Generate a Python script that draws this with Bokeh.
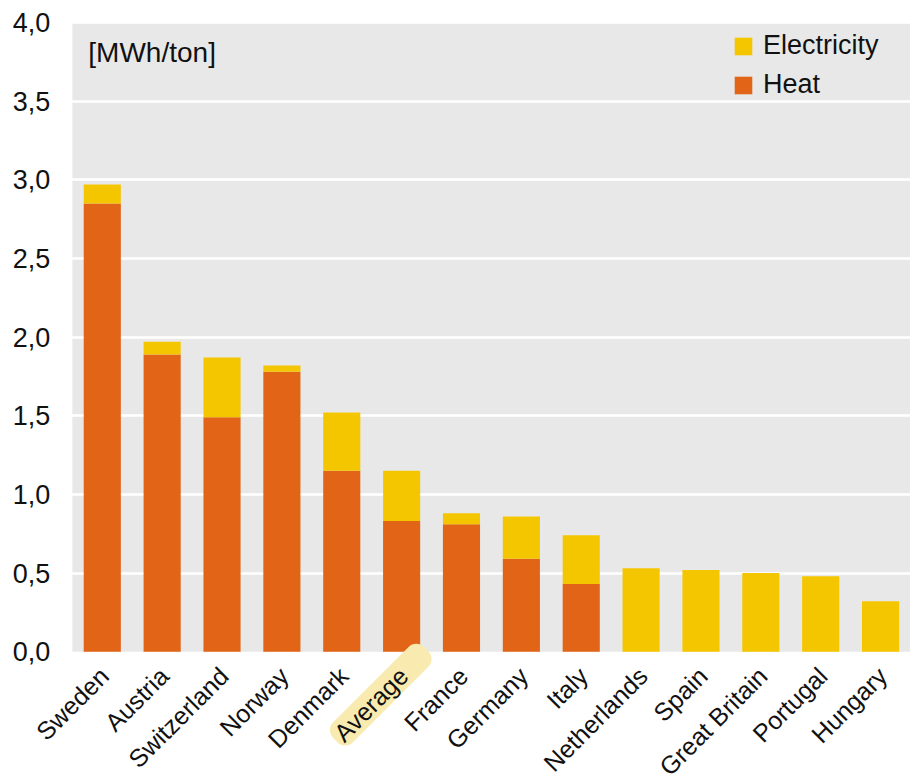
import math
from bokeh.plotting import figure
from bokeh.core.properties import value
from bokeh.models import (ColumnDataSource, Range1d, Legend, LegendItem, Label,
                          FixedTicker, BoxAnnotation)
from bokeh.embed import file_html
from bokeh.resources import INLINE

countries = ["Sweden", "Austria", "Switzerland", "Norway", "Denmark", "Average", "France",
             "Germany", "Italy", "Netherlands", "Spain", "Great Britain", "Portugal", "Hungary"]
heat = [2.85, 1.89, 1.49, 1.78, 1.15, 0.83, 0.81, 0.59, 0.43, 0.0, 0.0, 0.0, 0.0, 0.0]
electricity = [0.12, 0.08, 0.38, 0.04, 0.37, 0.32, 0.07, 0.27, 0.31, 0.53, 0.52, 0.50, 0.48, 0.32]
y_ticks = [0.0, 0.5, 1.0, 1.5, 2.0, 2.5, 3.0, 3.5, 4.0]
y_tick_labels = ["0,0", "0,5", "1,0", "1,5", "2,0", "2,5", "3,0", "3,5", "4,0"]
unit_label = "[MWh/ton]"
highlight = "Average"

ORANGE = "#e26416"
YELLOW = "#f4c600"
GREY = "#e8e8e8"
FONT = "Liberation Sans"
XFS = "25px"
TXT = "#111111"
LX, LY = 2, 20          # category label offset from the category position at zero (px)
PILL_EXT = 32           # highlight extension beyond the end of the label (px)

n = len(countries)
pos = [i + 0.5 for i in range(n)]   # category centres
source = ColumnDataSource(dict(country=countries, pos=pos, heat=heat, electricity=electricity))
hl_i = countries.index(highlight)
hl_source = ColumnDataSource(dict(country=[highlight], pos=[pos[hl_i]]))
ytick_source = ColumnDataSource(dict(y=y_ticks, label=y_tick_labels, x=[0.0] * len(y_ticks)))

# the frame covers the whole picture so that every text (tick labels, category labels,
# highlight) is drawn as a glyph; the grey box marks the actual plotting area
p = figure(x_range=Range1d(-1.2, n), y_range=Range1d(-0.8, 4.14),
           frame_width=910, frame_height=777, output_backend="svg", toolbar_location=None,
           x_axis_location=None, y_axis_location=None,
           min_border_left=0, min_border_right=0, min_border_top=0, min_border_bottom=0)

p.background_fill_color = "white"
p.border_fill_color = "white"
p.outline_line_color = None

p.add_layout(BoxAnnotation(left=0, right=n, bottom=y_ticks[0], top=y_ticks[-1],
                           fill_color=GREY, fill_alpha=1.0, line_color=None, level="image"))

rs = p.vbar_stack(["heat", "electricity"], x="pos", width=0.62, color=[ORANGE, YELLOW],
                  line_color=None, source=source)

p.xgrid.grid_line_color = None
p.ygrid.grid_line_color = "white"
p.ygrid.grid_line_width = 2.5
p.ygrid.ticker = FixedTicker(ticks=y_ticks[1:])

# y tick labels
p.text(x="x", y="y", text="label", source=ytick_source, x_offset=-22,
       text_align="right", text_baseline="middle", text_font=value(FONT),
       text_font_size="27px", text_color=TXT)

d = PILL_EXT / math.sqrt(2)
# highlight pill behind "Average"
p.text(x="pos", y=0, text="country", source=hl_source, angle=45, angle_units="deg",
       text_align="right", text_baseline="middle", text_font=value(FONT), text_font_size=XFS,
       text_alpha=0.0, x_offset=LX + d, y_offset=LY - d,
       background_fill_color="#f9ebb0", background_fill_alpha=1.0,
       border_radius=11, padding=dict(left=4, right=PILL_EXT, top=0, bottom=0))

# category labels
p.text(x="pos", y=0, text="country", source=source, angle=45, angle_units="deg",
       text_align="right", text_baseline="middle", text_font=value(FONT), text_font_size=XFS,
       text_color=TXT, x_offset=LX, y_offset=LY)

unit = Label(x=0, y=y_ticks[-1], x_offset=16, y_offset=-14, text=unit_label,
             text_font=FONT, text_font_size="28px", text_color=TXT,
             text_align="left", text_baseline="top")
p.add_layout(unit)

legend = Legend(items=[LegendItem(label="Electricity", renderers=[rs[1]]),
                       LegendItem(label="Heat", renderers=[rs[0]])],
                location="top_right", background_fill_alpha=0, border_line_color=None,
                glyph_width=22, glyph_height=22, label_text_font=FONT, label_text_font_size="27px",
                label_text_color=TXT, label_standoff=9, spacing=8, padding=10, margin=30,
                label_width=117)
p.add_layout(legend)

open("out.html", "w").write(file_html(p, INLINE))
